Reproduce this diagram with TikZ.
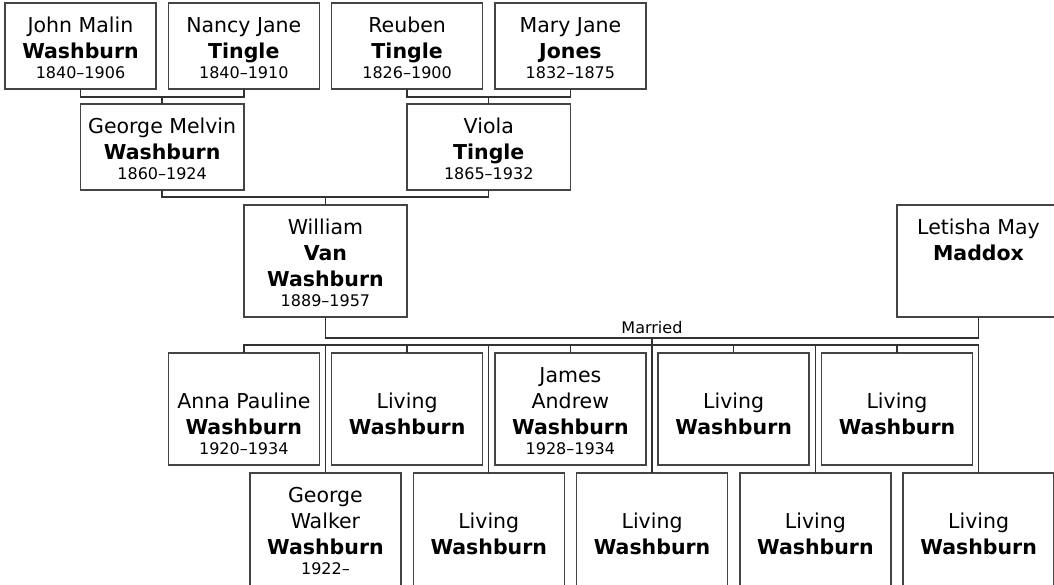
\documentclass[tikz,border=0pt]{standalone}
\usepackage{fontspec}
\setmainfont{DejaVu Sans}
\usetikzlibrary{calc}
\newcommand\namef{\fontsize{20.5}{26}\selectfont}
\newcommand\datef{\fontsize{16}{20.5}\selectfont}
\newcommand\fl{\rule{0pt}{29pt}}
\newcommand\pcard[3]{\parbox[c][#2pt][t]{#1pt}{\centering\namef #3}}
\definecolor{boxline}{RGB}{68,68,68}
\definecolor{connline}{RGB}{50,50,50}
\tikzset{
  card/.style={draw=boxline, line width=1.5pt, fill=white, inner sep=0pt, outer sep=0pt, anchor=north west},
  conn/.style={draw=connline, line width=1.4pt},
  lbl/.style={font=\datef, inner sep=0pt},
}
\begin{document}
\begin{tikzpicture}[x=1pt,y=-1pt]
\useasboundingbox (0,0) rectangle (1054,584);
\fill[white] (0,0) rectangle (1054,584);
\clip (0,0) rectangle (1054,584);

% generation 1
\node[card] (john)   at (5,3)     {\pcard{151}{86}{\fl John Malin\par\textbf{Washburn}\par{\datef 1840–1906\par}}};
\node[card] (nancy)  at (168.3,3) {\pcard{151}{86}{\fl Nancy Jane\par\textbf{Tingle}\par{\datef 1840–1910\par}}};
\node[card] (reuben) at (331.6,3) {\pcard{151}{86}{\fl Reuben\par\textbf{Tingle}\par{\datef 1826–1900\par}}};
\node[card] (mary)   at (494.9,3) {\pcard{151}{86}{\fl Mary Jane\par\textbf{Jones}\par{\datef 1832–1875\par}}};

% generation 2
\node[card] (georgem) at (80.5,104) {\pcard{163.3}{86}{\fl George Melvin\par\textbf{Washburn}\par{\datef 1860–1924\par}}};
\node[card] (viola)   at (407.1,104) {\pcard{163.3}{86}{\fl Viola\par\textbf{Tingle}\par{\datef 1865–1932\par}}};

% generation 3
\node[card] (william) at (243.8,205) {\pcard{163.3}{112}{\fl William\par\textbf{Van}\par\textbf{Washburn}\par{\datef 1889–1957\par}}};
\node[card] (letisha) at (896.8,205) {\pcard{163.3}{112}{\fl Letisha May\par\textbf{Maddox}\par}};

% children, row 1
\node[card] (kidA1) at (168.3,353) {\pcard{151}{112}{\fl\par Anna Pauline\par\textbf{Washburn}\par{\datef 1920–1934\par}}};
\node[card] (kidA2) at (331.6,353) {\pcard{151}{112}{\fl\par Living\par\textbf{Washburn}\par}};
\node[card] (kidA3) at (494.9,353) {\pcard{151}{112}{\fl James\par Andrew\par\textbf{Washburn}\par{\datef 1928–1934\par}}};
\node[card] (kidA4) at (658.2,353) {\pcard{151}{112}{\fl\par Living\par\textbf{Washburn}\par}};
\node[card] (kidA5) at (821.5,353) {\pcard{151}{112}{\fl\par Living\par\textbf{Washburn}\par}};

% children, row 2 (cut off by the lower edge of the picture)
\node[card] (kidB1) at (249.95,473) {\pcard{151}{116}{\fl George\par Walker\par\textbf{Washburn}\par{\datef 1922–\par}}};
\node[card] (kidB2) at (413.25,473) {\pcard{151}{116}{\fl\par Living\par\textbf{Washburn}\par}};
\node[card] (kidB3) at (576.55,473) {\pcard{151}{116}{\fl\par Living\par\textbf{Washburn}\par}};
\node[card] (kidB4) at (739.85,473) {\pcard{151}{116}{\fl\par Living\par\textbf{Washburn}\par}};
\node[card] (kidB5) at (903.15,473) {\pcard{151}{116}{\fl\par Living\par\textbf{Washburn}\par}};

% connectors
\draw[conn] (john.south) -- ++(0,8) -| (nancy.south);
\draw[conn] (georgem.north) -- ++(0,-7);
\draw[conn] (reuben.south) -- ++(0,8) -| (mary.south);
\draw[conn] (viola.north) -- ++(0,-7);
\draw[conn] (georgem.south) -- ++(0,7) -| (viola.south);
\draw[conn] (william.north) -- ++(0,-8);
\draw[conn] (william.south) -- ++(0,21) coordinate (mw) -| (letisha.south);
\path (mw) -- (mw -| letisha.south) coordinate[pos=0.5] (mc);
\node[lbl, above=4.5pt] (married) at (mc) {Married};
\draw[conn] (mc) -- ++(0,7) coordinate (bus);
\draw[conn] (kidA1.north) -- (kidA1.north |- bus) -- (bus -| kidB5.north) -- (kidB5.north);
\foreach \n in {kidA2,kidA3,kidA4,kidA5,kidB1,kidB2,kidB3,kidB4}
  \draw[conn] (\n.north) -- (\n.north |- bus);
\end{tikzpicture}
\end{document}
